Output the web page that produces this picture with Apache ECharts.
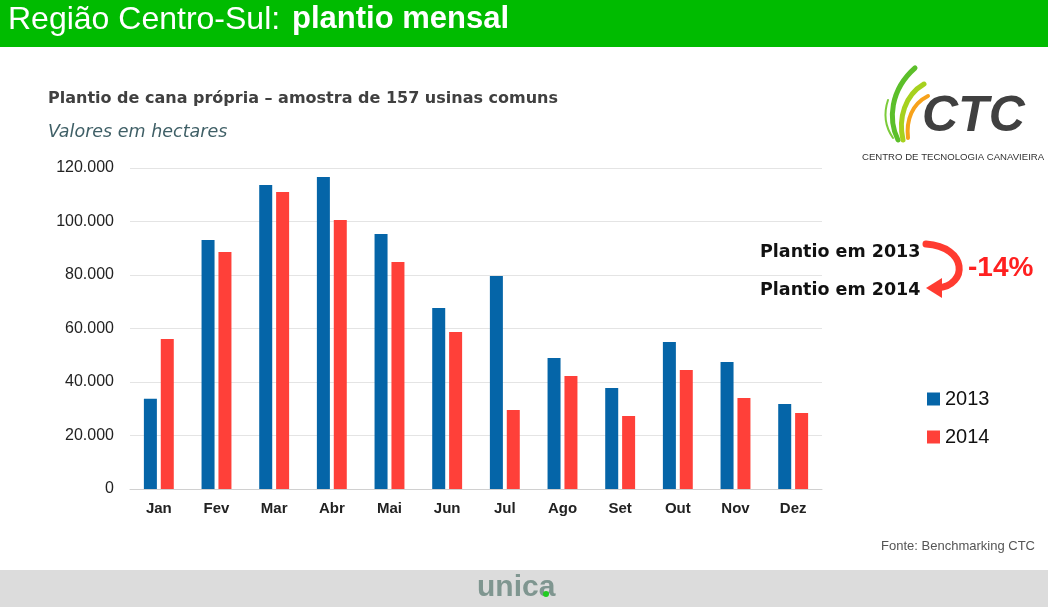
<!DOCTYPE html>
<html><head><meta charset="utf-8">
<script src="https://cdn.jsdelivr.net/npm/echarts@6/dist/echarts.min.js"></script>
<style>html,body{margin:0;padding:0;background:#fff}#c{width:1048px;height:607px}</style>
</head><body><div id="c"></div>
<script>
const categories = ['Jan','Fev','Mar','Abr','Mai','Jun','Jul','Ago','Set','Out','Nov','Dez'];
const values2013 = [33700, 93100, 113600, 116600, 95300, 67700, 79600, 49000, 37800, 55000, 47500, 31800];
const values2014 = [56100, 88600, 111000, 100600, 84900, 58700, 29500, 42200, 27300, 44500, 34000, 28400];
const seriesNames = ['2013', '2014'];
const yTicks = [0, 20000, 40000, 60000, 80000, 100000, 120000];

const chart = echarts.init(document.getElementById('c'), null, {renderer:'canvas'});
const fmt = v => v === 0 ? '0' : String(v).replace(/\B(?=(\d{3})+(?!\d))/g, '.');
const ff = 'Liberation Sans, Arial, sans-serif';
const fd = 'DejaVu Sans, Verdana, sans-serif';

function bez(x1,y1,cpx1,cpy1,cpx2,cpy2,x2,y2,color,w){
  return {type:'bezierCurve', shape:{x1,y1,cpx1,cpy1,cpx2,cpy2,x2,y2}, style:{stroke:color, lineWidth:w, fill:null, lineCap:'round'}, z:10};
}

chart.setOption({
  animation:false,
  backgroundColor:'#ffffff',
  grid:{left:130, right:226, top:168, bottom:118, containLabel:false},
  legend:{
    orient:'vertical', left:922, top:384, itemWidth:13, itemHeight:13, itemGap:18,
    icon:'rect', textStyle:{fontSize:20, color:'#111', fontFamily:ff},
    data:seriesNames
  },
  xAxis:{
    type:'category', data:categories,
    axisLine:{lineStyle:{color:'#d0d0d0', width:1}},
    axisTick:{show:false},
    axisLabel:{fontSize:15, fontWeight:'bold', color:'#222', margin:12, fontFamily:ff}
  },
  yAxis:{
    type:'value', min:yTicks[0], max:yTicks[yTicks.length-1], interval:20000,
    axisLine:{show:false}, axisTick:{show:false},
    splitLine:{lineStyle:{color:'#e4e4e4', width:1}},
    axisLabel:{fontSize:16, color:'#222', margin:16, formatter:fmt, fontFamily:ff}
  },
  series:[
    {name:seriesNames[0], type:'bar', data:values2013, barWidth:13, barGap:'30%',
     itemStyle:{color:'#0565a8'}},
    {name:seriesNames[1], type:'bar', data:values2014, barWidth:13,
     itemStyle:{color:'#ff4039'}}
  ],
  graphic:[
    {type:'rect', x:0, y:0, shape:{x:0,y:0,width:1048, height:47}, style:{fill:'#00bb00'}, z:0},
    {type:'text', x:8, y:4, style:{text:'Região Centro-Sul:', fill:'#fff', font:'32px '+ff}},
    {type:'text', x:292, y:4, style:{text:'plantio mensal', fill:'#fff', font:'bold 31px '+ff}},
    {type:'rect', x:0, y:570, shape:{x:0,y:0,width:1048, height:37}, style:{fill:'#dcdcdc'}},
    {type:'text', x:477, y:573, style:{text:'unica', fill:'#7f9690', font:'bold 30px '+ff}},
    {type:'circle', shape:{cx:546, cy:594, r:3}, style:{fill:'#22cc22'}, z:10},
    {type:'text', x:48, y:91, style:{text:'Plantio de cana própria – amostra de 157 usinas comuns', fill:'#404040', font:'bold 16px '+fd}},
    {type:'text', x:48, y:123, style:{text:'Valores em hectares', fill:'#3f5f66', font:'italic 17.5px '+fd}},
    {type:'text', x:1035, y:540, style:{text:'Fonte: Benchmarking CTC', fill:'#555', font:'13px '+ff, align:'right'}},
    {type:'text', x:760, y:243, style:{text:'Plantio em 2013', fill:'#111', font:'bold 17.5px '+fd}},
    {type:'text', x:760, y:281, style:{text:'Plantio em 2014', fill:'#111', font:'bold 17.5px '+fd}},
    {type:'text', x:968, y:254, style:{text:'-14%', fill:'#ff2020', font:'bold 28px '+ff}},
    bez(926,244, 968,247, 968,285, 938,288, '#ff3b30', 7),
    {type:'polygon', shape:{points:[[926,288],[942,278],[942,298]]}, style:{fill:'#ff3b30'}, z:10},
    bez(898,140, 888,120, 890,90, 915,68, '#5cbf2a', 5),
    bez(903,140, 898,118, 905,95, 924,84, '#a6d11e', 5),
    bez(908,138, 906,120, 912,104, 928,96, '#f7a21b', 4),
    bez(893,138, 884,125, 884,112, 888,100, '#7ccb3a', 2),
    {type:'text', x:922, y:92, style:{text:'CTC', fill:'#404040', font:'italic bold 50px '+ff}},
    {type:'text', x:862, y:152, style:{text:'CENTRO DE TECNOLOGIA CANAVIEIRA', fill:'#333', font:'9.6px '+ff}}
  ]
});
</script></body></html>
